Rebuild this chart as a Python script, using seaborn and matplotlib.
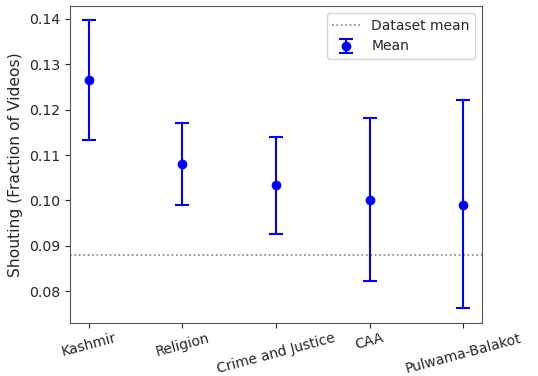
import numpy as np
import pandas as pd
import seaborn as sns
import matplotlib
matplotlib.use("Agg")
import matplotlib.pyplot as plt

# Topic categories and shouting fraction (mean with CI bounds)
topics = ["Kashmir", "Religion", "Crime and Justice", "CAA", "Pulwama-Balakot"]
means = [0.1265, 0.1080, 0.1033, 0.1002, 0.0991]
lower = [0.1133, 0.0990, 0.0927, 0.0823, 0.0763]
upper = [0.1397, 0.1171, 0.1140, 0.1181, 0.1220]
dataset_mean = 0.0880

df = pd.DataFrame({"topic": topics, "mean": means, "lo": lower, "hi": upper})

sns.set_style("ticks")
plt.rcParams["font.family"] = ["DejaVu Sans"]

fig, ax = plt.subplots(figsize=(5.38, 3.76), dpi=100)
fig.subplots_adjust(left=0.130, right=0.896, top=0.984, bottom=0.142)

x = np.arange(len(df))
ax.axhline(dataset_mean, color="gray", linestyle=":", linewidth=1.2, label="Dataset mean")
yerr = [df["mean"] - df["lo"], df["hi"] - df["mean"]]
ax.errorbar(x, df["mean"], yerr=yerr, fmt="o", color="blue", capsize=5,
            markersize=6, elinewidth=1.5, capthick=1.5, label="Mean")

ax.set_xticks(x)
ax.set_xticklabels(df["topic"], rotation=15, fontsize=10)
ax.tick_params(axis="x", pad=2.5)
ax.tick_params(axis="y", labelsize=10.2)
ax.set_ylabel("Shouting (Fraction of Videos)", fontsize=11.2)
ax.set_ylim(0.0731, 0.1428)
ax.set_yticks([0.08, 0.09, 0.10, 0.11, 0.12, 0.13, 0.14])
for s in ax.spines.values():
    s.set_color("#555555")
ax.legend(loc="upper right", fontsize=10)

fig.savefig("out.png", dpi=100)
